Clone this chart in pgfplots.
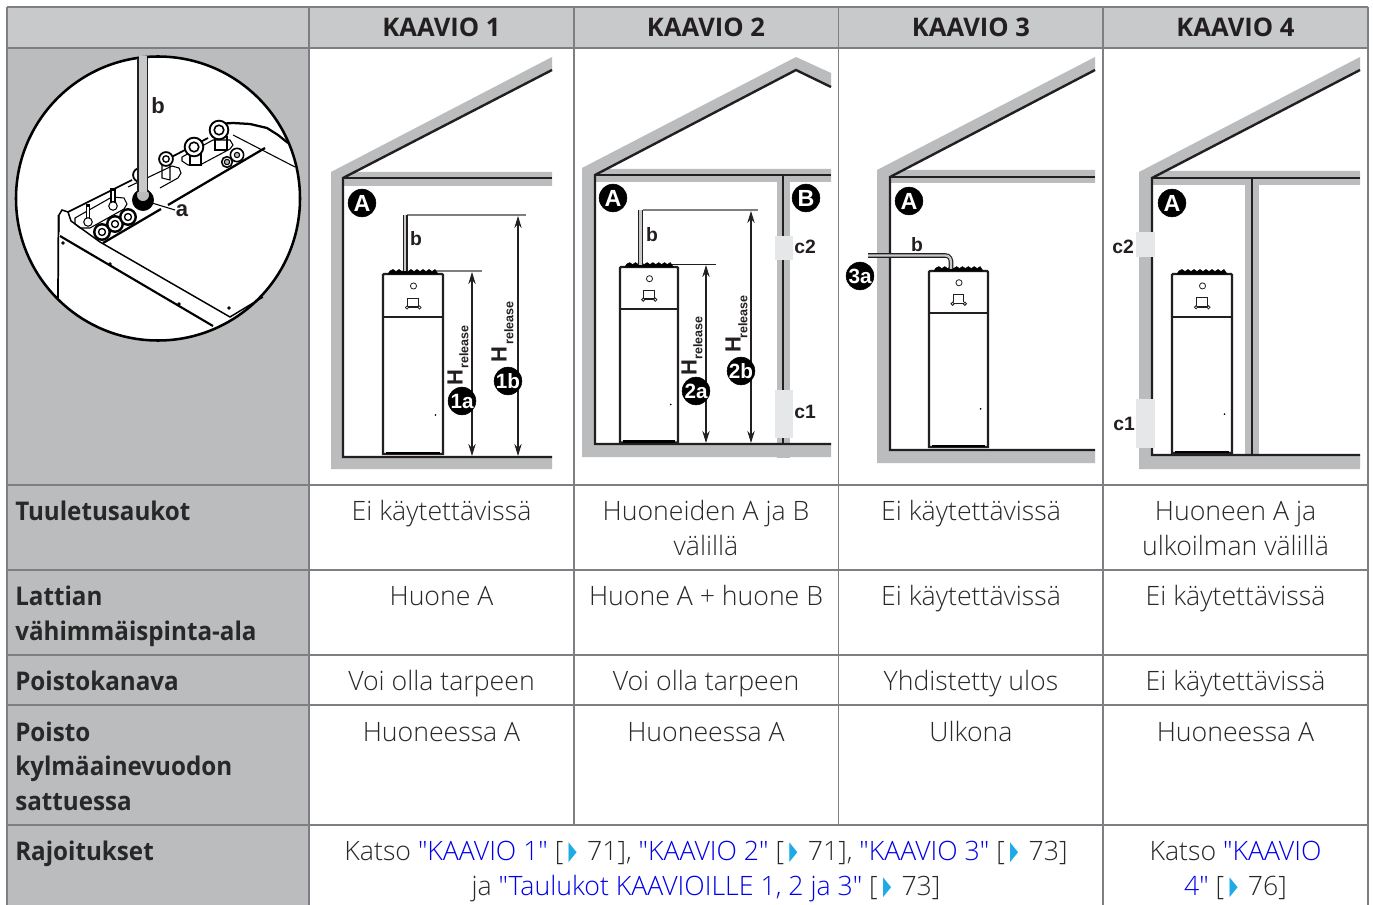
\documentclass[border=0pt]{standalone}
\usepackage{fontspec}
\usepackage{graphicx}
\usepackage{pgfplots}
\usetikzlibrary{arrows.meta}
\pgfplotsset{compat=1.18}
\IfFontExistsTF{Open Sans Light}{\newfontfamily\mainf{Open Sans Light}}{\newfontfamily\mainf{Open Sans}}
\IfFontExistsTF{Open Sans SemiBold}{\newfontfamily\semif{Open Sans SemiBold}}{\newfontfamily\semif{Open Sans}[UprightFont=*-Bold]}
\newfontfamily\ar{Liberation Sans}
\newfontfamily\dv{DejaVu Sans}
\definecolor{wall}{RGB}{186,188,190}
\definecolor{head}{RGB}{200,201,203}
\definecolor{vent}{RGB}{230,231,232}
\definecolor{rule}{RGB}{125,127,130}
\definecolor{inkc}{RGB}{35,31,32}
\definecolor{txt}{RGB}{40,40,40}
\definecolor{lnk}{RGB}{0,0,235}
\definecolor{tri}{RGB}{30,170,230}
\newcommand\sz[1]{\fontsize{#1}{#1}\selectfont}
\newcommand\fillp[2]{\addplot[fill=#1,draw=none] coordinates {#2} --cycle;}
\newcommand\li[2]{\addplot[#1] coordinates {#2};}
\newcommand\lab[3]{\node[text=inkc,anchor=center,inner sep=0pt,font=\ar\bfseries\sz{14.5}] at (axis cs:#1,#2) {#3};}
\newcommand\labb[3]{\node[text=inkc,anchor=center,inner sep=0pt,font=\ar\bfseries\sz{16.5}] at (axis cs:#1,#2) {#3};}
\newcommand\ddt[4]{\addplot[only marks,mark=*,mark size=#3,mark options={fill=#4,draw=none}] coordinates {(#1,#2)};}
\newcommand\cl[3]{\ddt{#1}{#2}{10.4pt}{black}\node[text=white,inner sep=0pt,font=\ar\bfseries\sz{17.5}] at (axis cs:#1,#2) {#3};}
\newcommand\clb[3]{\ddt{#1}{#2}{10.4pt}{black}\node[text=white,inner sep=0pt,font=\ar\bfseries\sz{15.5}] at (axis cs:#1,#2) {#3};}
\newcommand\hrel[4]{%
 \node[rotate=90,text=inkc,inner sep=0pt,font=\ar\bfseries\sz{16.5}] at (axis cs:#1,#2) {H};
 \node[rotate=90,text=inkc,inner sep=0pt,font=\ar\bfseries\sz{9.4}] at (axis cs:#3,#4) {release};}
\pgfplotsset{place/.style n args={4}{x filter/.expression={#1+#3*x},y filter/.expression={#2+#4*y}}}
\newcommand\heater[4]{%
 \addplot[place={#1}{#2}{#3}{#4},fill=white,draw=inkc,line width=1.7pt] coordinates {(0,1)(1,0)(59,0)(60,1)(60,180)(0,180)} --cycle;
 \addplot[place={#1}{#2}{#3}{#4},fill=black,draw=black,line width=0.4pt] coordinates {(5,0)(7,-3)(10,-4.5)(13,-2.5)(16,-4.5)(19,-2.5)(22,-4.5)(25,-2.5)(28,-4.5)(31,-2.5)(34,-4.5)(37,-2.5)(40,-4.5)(43,-2.5)(46,-4.5)(49,-2.5)(52,-4.5)(55,0)} --cycle;
 \addplot[place={#1}{#2}{#3}{#4},draw=inkc,line width=1.2pt] coordinates {(0,43)(60,43)};
 \addplot[place={#1}{#2}{#3}{#4},only marks,mark=o,mark size=2.3pt,mark options={draw=inkc,line width=0.6pt}] coordinates {(30.5,12)};
 \addplot[place={#1}{#2}{#3}{#4},draw=inkc,line width=0.7pt] coordinates {(24.5,32)(24.5,24)(35.5,24)(35.5,32)};
 \addplot[place={#1}{#2}{#3}{#4},draw=inkc,line width=1.1pt] coordinates {(24,33)(37,33)};
 \addplot[place={#1}{#2}{#3}{#4},only marks,mark=*,mark size=1.2pt,mark options={fill=white,draw=inkc,line width=0.6pt}] coordinates {(24,33.5)(36.5,33.5)};
 \addplot[place={#1}{#2}{#3}{#4},only marks,mark=*,mark size=0.4pt,mark options={fill=inkc,draw=none}] coordinates {(52.5,141)};
 \addplot[place={#1}{#2}{#3}{#4},draw=black,line width=1.8pt] coordinates {(3,179)(57,179)};
}
\newcommand\tc[3]{\node[anchor=base,inner sep=0pt,text=txt,font=\mainf\sz{20}] at (axis cs:#1,#2) {#3};}
\newcommand\tl[2]{\node[anchor=base west,inner sep=0pt,text=txt,font=\semif\sz{19.3}] at (axis cs:15,#1) {\scalebox{0.94}[1]{#2}};}
\newcommand\tri{\kern4pt\textcolor{tri}{\raisebox{0.2pt}{\scalebox{0.47}[1.15]{\dv\sz{17}▶}}}\kern2.5pt}
\newcommand\lk[1]{\textcolor{lnk}{#1}}
\begin{document}
\begin{tikzpicture}
\begin{axis}[
 scale only axis,width=1029.75pt,height=678.75pt,
 xmin=0,xmax=1373,ymin=0,ymax=905,y dir=reverse,
 hide axis,enlargelimits=false,clip=true,clip marker paths=true,
 line cap=butt,line join=miter]
\fillp{white}{(0,0)(1373,0)(1373,905)(0,905)}
% table fills
\fillp{head}{(7,7)(1368,7)(1368,48)(7,48)}
\fillp{wall}{(7,48)(309,48)(309,905)(7,905)}
% house 1
\fillp{wall}{(331,172)(552,57)(552,70)(343,178)(343,457)(552,457)(552,469)(331,469)}
\fillp{wall}{(355,172)(552,172)(552,186)(343,186)(343,178)}
\li{draw=inkc,line width=1.8pt}{(552,70)(343,178)(343,457)(552,457)}
\li{draw=inkc,line width=1.8pt}{(343,178)(552,178)}
\li{draw=rule,line width=0.9pt}{(407,215)(526,215)}
\li{draw=rule,line width=0.9pt}{(436,271)(482,271)}
\heater{383}{274}{1}{1}
\li{draw=inkc,line width=3.4pt}{(405.3,215)(405.3,271)}
\li{draw=head,line width=1.7pt}{(405.3,215)(405.3,271)}
\li{draw=inkc,line width=0.8pt,{Stealth[length=9pt,width=5.5pt]}-{Stealth[length=9pt,width=5.5pt]}}{(472,272)(472,456)}
\li{draw=inkc,line width=0.8pt,{Stealth[length=9pt,width=5.5pt]}-{Stealth[length=9pt,width=5.5pt]}}{(518,216)(518,456)}
\lab{416}{239}{b}
\hrel{455}{378}{464}{347}
\hrel{499}{355}{509}{323}
\cl{362}{203}{A}
\clb{462}{401}{1a}
\clb{508}{381}{1b}
% house 2
\fillp{wall}{(582,168)(796,57)(831,73)(831,87)(796,70)(595,175)(595,444)(831,444)(831,457)(582,457)}
\fillp{wall}{(607,169)(831,169)(831,182)(595,182)(595,175)}
\fillp{wall}{(777,182)(790,182)(790,458)(777,458)}
\li{draw=inkc,line width=1.8pt}{(831,87)(796,70)(595,175)(595,444)(831,444)}
\li{draw=inkc,line width=1.8pt}{(595,175)(831,175)}
\li{draw=inkc,line width=1.8pt}{(783,175)(783,444)}
\fillp{vent}{(775,236)(793,236)(793,260)(775,260)}
\fillp{vent}{(775,390)(793,390)(793,438)(775,438)}
\li{draw=rule,line width=0.9pt}{(643,210)(758,210)}
\li{draw=inkc,line width=0.7pt}{(668,264)(716,264)}
\heater{620}{267}{0.967}{0.975}
\li{draw=inkc,line width=3.4pt}{(640.5,210)(640.5,265)}
\li{draw=head,line width=1.7pt}{(640.5,210)(640.5,265)}
\li{draw=inkc,line width=0.8pt,{Stealth[length=9pt,width=5.5pt]}-{Stealth[length=9pt,width=5.5pt]}}{(706,265)(706,443)}
\li{draw=inkc,line width=0.8pt,{Stealth[length=9pt,width=5.5pt]}-{Stealth[length=9pt,width=5.5pt]}}{(751,211)(751,443)}
\lab{652}{235}{b}
\lab{805}{247}{c2}
\lab{805}{412}{c1}
\hrel{689}{368}{698}{338}
\hrel{733}{345}{743}{317}
\cl{613}{198}{A}
\cl{806}{198}{B}
\clb{696}{391}{2a}
\clb{741}{371}{2b}
% house 3
\fillp{wall}{(877,170)(1095,57)(1095,70)(890,177)(890,450)(1095,450)(1095,463)(877,463)}
\fillp{wall}{(903,170)(1095,170)(1095,183)(890,183)(890,177)}
\li{draw=inkc,line width=1.8pt}{(1095,70)(890,177)(890,450)(1095,450)}
\li{draw=inkc,line width=1.8pt}{(890,177)(1095,177)}
\heater{929}{271}{0.983}{0.978}
\li{draw=inkc,line width=3.4pt}{(868,255.5)(945,255.5)(948,256)(950,258)(951,261)(951,269)}
\li{draw=head,line width=1.7pt}{(868,255.5)(945,255.5)(948,256)(950,258)(951,261)(951,269)}
\lab{917}{245}{b}
\cl{909}{201}{A}
\clb{860}{276}{3a}
% house 4
\fillp{wall}{(1139,172)(1360,57)(1360,70)(1152,178)(1152,455)(1360,455)(1360,469)(1139,469)}
\fillp{wall}{(1165,171)(1360,171)(1360,185)(1152,185)(1152,178)}
\fillp{wall}{(1245,185)(1259,185)(1259,455)(1245,455)}
\li{draw=inkc,line width=1.8pt}{(1360,70)(1152,178)(1152,455)(1360,455)}
\li{draw=inkc,line width=1.8pt}{(1152,178)(1360,178)}
\li{draw=inkc,line width=1.8pt}{(1252,178)(1252,455)}
\fillp{vent}{(1136,232)(1155,232)(1155,257)(1136,257)}
\fillp{vent}{(1136,399)(1155,399)(1155,448)(1136,448)}
\heater{1172}{274}{1}{0.994}
\lab{1123}{247}{c2}
\lab{1124}{424}{c1}
\cl{1172}{203}{A}
% circle
\addplot[only marks,mark=*,mark size=106.5pt,mark options={fill=white,draw=black,line width=1.9pt}] coordinates {(158,198.5)};
\li{draw=black,line width=1.7pt}{(288,143)(278,135)(267,128)(250,124)(233,123)(218,124)}
\li{draw=black,line width=0.8pt}{(233,135)(295,167)}
\li{draw=black,line width=1.3pt}{(68,212)(132,180)}
\li{draw=black,line width=1.3pt}{(160,163)(208,138)}
\li{draw=black,line width=1.7pt}{(103,243)(161,209)}
\li{draw=black,line width=1.7pt}{(168,205)(265,148)}
\li{draw=black,line width=1.1pt}{(59,232)(59,215)(62,210)(68,212)(71,221)(100,242)(230,317)(263,297)}
\li{draw=black,line width=1.6pt}{(60,236)(213,326)}
\li{draw=black,line width=1.3pt}{(58.5,215)(58,298)}
% slots
\li{draw=black,line width=0.8pt}{(75,218)(112,197)(124,198)(127,204)(124,209)(90,228)(80,228)(75,224)(75,218)}
\li{draw=black,line width=0.8pt}{(128,187)(172,166)(179,168)(181,173)(178,178)(160,188)}
\li{draw=black,line width=0.8pt}{(182,157)(213,140)(230,140)(233,145)(230,149)(200,165)(188,165)(182,161)(182,157)}
% fittings
\li{draw=black,line width=2.8pt}{(88,204)(88,218)}
\li{draw=white,line width=1pt}{(88,207)(88,220)}
\li{draw=black,line width=4pt}{(113,188)(113,203)}
\li{draw=white,line width=2pt}{(113,191)(113,201)}
\addplot[only marks,mark=*,mark size=3.2pt,mark options={fill=white,draw=black,line width=0.8pt}] coordinates {(88,222)(113,206)};
\li{draw=black,line width=0.8pt}{(162,160)(162,178)(170,180)(170,160)}
\li{draw=black,line width=0.8pt}{(190,152)(190,165)(201,165)(201,152)}
\li{draw=black,line width=0.8pt}{(215,136)(215,150)(227,150)(227,136)}
\addplot[only marks,mark=*,mark size=7pt,mark options={fill=white,draw=black,line width=1.4pt}] coordinates {(194,147)(219,130)};
\addplot[only marks,mark=*,mark size=3.6pt,mark options={fill=white,draw=black,line width=1.2pt}] coordinates {(194,147)(219,130)};
\addplot[only marks,mark=*,mark size=5.2pt,mark options={fill=white,draw=black,line width=1.3pt}] coordinates {(166,159)(140,175)};
\addplot[only marks,mark=*,mark size=2.4pt,mark options={fill=white,draw=black,line width=1pt}] coordinates {(166,159)};
\addplot[only marks,mark=*,mark size=5.8pt,mark options={fill=white,draw=black,line width=1.8pt}] coordinates {(102,232)(115,224)(128,217)};
\addplot[only marks,mark=*,mark size=2.6pt,mark options={fill=white,draw=black,line width=1pt}] coordinates {(102,232)(115,224)(128,217)};
\addplot[only marks,mark=*,mark size=4pt,mark options={fill=white,draw=black,line width=1.2pt}] coordinates {(227,162)};
\addplot[only marks,mark=*,mark size=5pt,mark options={fill=white,draw=black,line width=1.2pt}] coordinates {(237,155)};
\addplot[only marks,mark=*,mark size=2pt,mark options={fill=wall,draw=black,line width=0.8pt}] coordinates {(227,162)(237,155)};
\addplot[only marks,mark=*,mark size=8pt,mark options={fill=black,draw=none}] coordinates {(143,200)};
\addplot[only marks,mark=*,mark size=5pt,mark options={fill=wall,draw=black,line width=0.8pt}] coordinates {(143,195)};
\li{draw=inkc,line width=7.6pt}{(142.5,58)(142.5,192)}
\li{draw=head,line width=6pt}{(142.5,56)(142.5,192)}
\li{draw=black,line width=0.8pt}{(152,203)(175,210)}
\addplot[only marks,mark=*,mark size=1.1pt,mark options={fill=black,draw=none}] coordinates {(110,264)(179,304)(229,308)(63,243)};
\labb{158}{106}{b}
\labb{182}{211}{a}
% table rules
\li{draw=rule,line width=1.1pt}{(7,7)(1368,7)}
\li{draw=rule,line width=1.1pt}{(7,48)(1368,48)}
\li{draw=rule,line width=1.1pt}{(7,485)(1368,485)}
\li{draw=rule,line width=1.1pt}{(7,570)(1368,570)}
\li{draw=rule,line width=1.1pt}{(7,655)(1368,655)}
\li{draw=rule,line width=1.1pt}{(7,705)(1368,705)}
\li{draw=rule,line width=1.1pt}{(7,825)(1368,825)}
\li{draw=rule,line width=1.1pt}{(7,7)(7,905)}
\li{draw=rule,line width=1.1pt}{(309,7)(309,905)}
\li{draw=rule,line width=1.1pt}{(574,7)(574,825)}
\li{draw=rule,line width=1.1pt}{(838.5,7)(838.5,825)}
\li{draw=rule,line width=1.1pt}{(1103,7)(1103,905)}
\li{draw=rule,line width=1.1pt}{(1368,7)(1368,905)}
% header
\node[anchor=base,inner sep=0pt,text=inkc,font=\semif\sz{19.2}] at (axis cs:441.5,37) {KAAVIO 1};
\node[anchor=base,inner sep=0pt,text=inkc,font=\semif\sz{19.2}] at (axis cs:706,37) {KAAVIO 2};
\node[anchor=base,inner sep=0pt,text=inkc,font=\semif\sz{19.2}] at (axis cs:971,37) {KAAVIO 3};
\node[anchor=base,inner sep=0pt,text=inkc,font=\semif\sz{19.2}] at (axis cs:1235.5,37) {KAAVIO 4};
% left labels
\tl{520}{Tuuletusaukot}
\tl{605}{Lattian}
\tl{640}{vähimmäispinta-ala}
\tl{690}{Poistokanava}
\tl{741}{Poisto}
\tl{775}{kylmäainevuodon}
\tl{810}{sattuessa}
\tl{860}{Rajoitukset}
% rows
\tc{441.5}{520}{Ei käytettävissä}
\tc{706}{520}{Huoneiden A ja B}
\tc{706}{555}{välillä}
\tc{971}{520}{Ei käytettävissä}
\tc{1235.5}{520}{Huoneen A ja}
\tc{1235.5}{555}{ulkoilman välillä}
\tc{441.5}{605}{Huone A}
\tc{706}{605}{Huone A + huone B}
\tc{971}{605}{Ei käytettävissä}
\tc{1235.5}{605}{Ei käytettävissä}
\tc{441.5}{690}{Voi olla tarpeen}
\tc{706}{690}{Voi olla tarpeen}
\tc{971}{690}{Yhdistetty ulos}
\tc{1235.5}{690}{Ei käytettävissä}
\tc{441.5}{741}{Huoneessa A}
\tc{706}{741}{Huoneessa A}
\tc{971}{741}{Ulkona}
\tc{1235.5}{741}{Huoneessa A}
\tc{706}{860}{Katso \lk{"KAAVIO 1"} [\tri\ 71], \lk{"KAAVIO 2"} [\tri\ 71], \lk{"KAAVIO 3"} [\tri\ 73]}
\tc{706}{895}{ja \lk{"Taulukot KAAVIOILLE 1, 2 ja 3"} [\tri\ 73]}
\tc{1235.5}{860}{Katso \lk{"KAAVIO}}
\tc{1235.5}{895}{\lk{4"} [\tri\ 76]}
\end{axis}
\end{tikzpicture}
\end{document}
